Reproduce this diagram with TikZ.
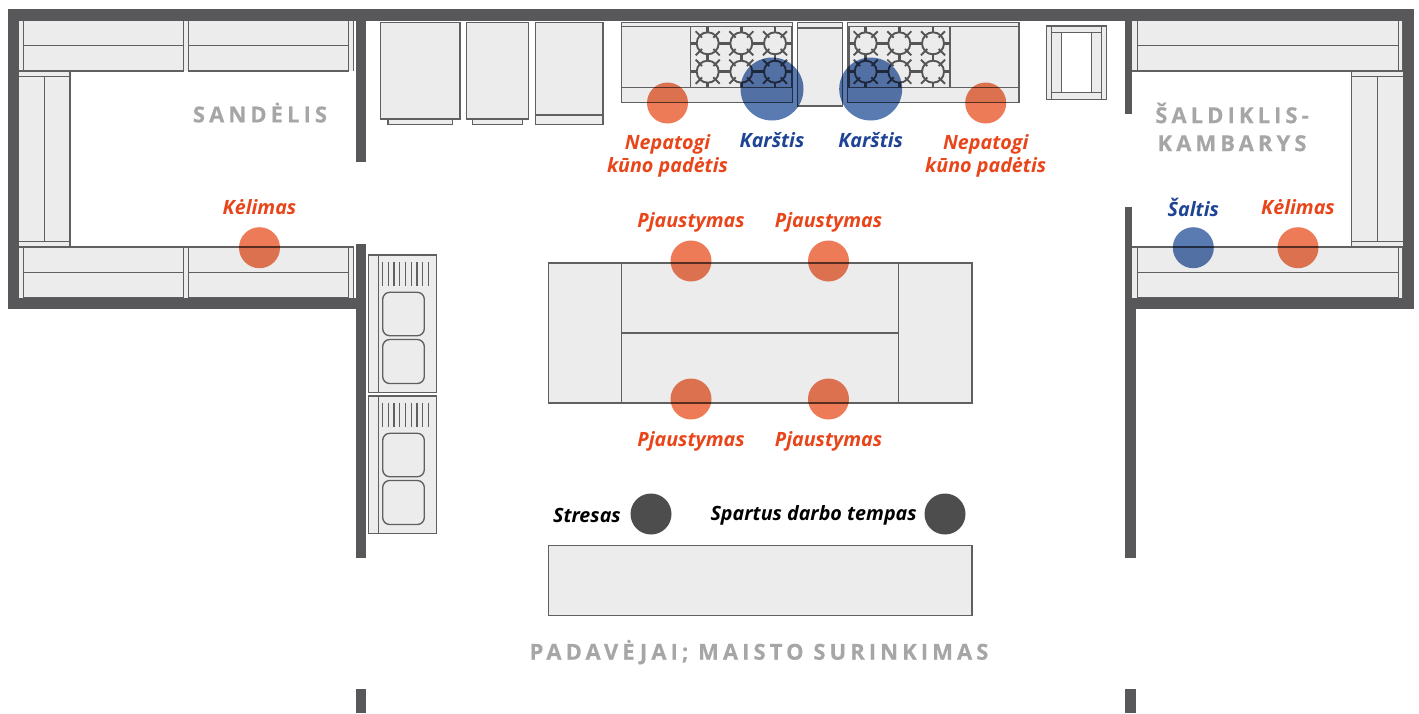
\documentclass[tikz,border=0pt]{standalone}
\usepackage{fontspec}
\setmainfont{Open Sans}
\newfontfamily\headfont[LetterSpace=18.5,BoldFeatures={FakeBold=0.4}]{Open Sans}
\tikzset{
  wall/.style={fill=wallc,draw=none},
  unit/.style={fill=unitc,draw=linec,line width=1.35pt},
  ln/.style={draw=linec,line width=1.35pt},
  well/.style={fill=unitc,draw=linec,line width=1.35pt,rounded corners=7pt},
  spot/.style={circle,draw=none,inner sep=0pt,minimum size=41pt},
  bigspot/.style={circle,draw=none,inner sep=0pt,minimum size=63pt},
  orangespot/.style={spot,fill=orangec,blend mode=multiply},
  bluespot/.style={spot,fill=bluec,blend mode=multiply},
  heatspot/.style={bigspot,fill=bluec,blend mode=multiply},
  darkspot/.style={spot,fill=darkc},
  lab/.style={font=\fontsize{19.7}{23}\selectfont\bfseries\itshape,align=center,inner sep=0pt},
  orangelab/.style={lab,text=orangetxt},
  bluelab/.style={lab,text=bluetxt},
  blacklab/.style={lab,text=black},
  room/.style={font=\fontsize{22}{28}\selectfont\headfont\bfseries,text=roomc,align=center,inner sep=0pt},
  grate/.style={draw=grc,line width=1.9pt},
  gratebar/.style={draw=grc,line width=2.5pt},
}
\definecolor{wallc}{HTML}{58585A}
\definecolor{unitc}{HTML}{ECECEC}
\definecolor{linec}{HTML}{606060}
\definecolor{grc}{HTML}{555555}
\definecolor{orangec}{HTML}{EE7B57}
\definecolor{bluec}{HTML}{5A7AB2}
\definecolor{darkc}{HTML}{4D4D4D}
\definecolor{orangetxt}{HTML}{E8461A}
\definecolor{bluetxt}{HTML}{1F4496}
\definecolor{roomc}{HTML}{A6A6A6}
\newcommand{\burner}[2]{%
  \draw[grate] (#1,#2) circle (11);
  \foreach \a in {45,135,225,315}{\draw[grate] (#1,#2)++(\a:8) -- ++(\a:9);}
}
\newcommand{\burnerbars}[1]{%
  \draw[gratebar] (#1,27) -- (#1,32.3) (#1,54.3) -- (#1,60.7) (#1,82.7) -- (#1,87);
}
\newcommand{\shelfpair}[2]{% x-left, y-top
  \draw[unit] (#1,#2) rectangle ++(160,50.5);
  \draw[ln] (#1,#2+25.3) -- ++(160,0);
}
\newcommand{\sinkunit}[1]{%
  \draw[unit] (368.7,#1) rectangle (436.7,#1+137.7);
  \draw[ln] (378.3,#1) -- ++(0,137.7);
  \foreach \i in {0,...,8}{\draw[ln] (382.7+5.7*\i,#1+6.7) -- ++(0,24);}
  \draw[well] (382.7,#1+37.3) rectangle (424.3,#1+80.7);
  \draw[well] (382.7,#1+84.5) rectangle (424.3,#1+128.5);
}
\begin{document}
\begin{tikzpicture}[x=1pt,y=-1pt]
\useasboundingbox (0,0) rectangle (1419,713);
\fill[white] (0,0) rectangle (1419,713);
% left store shelving
\fill[unitc] (19,20.5) rectangle (354,71);
\fill[unitc] (19,247) rectangle (354,298);
\fill[unitc] (19,71) rectangle (70,247);
\shelfpair{23.3}{20.5}
\shelfpair{188.7}{20.5}
\shelfpair{23.3}{246.9}
\shelfpair{188.7}{246.9}
\draw[ln] (19,71) -- (70,71) (19,246.9) -- (354,246.9);
\draw[ln] (353.3,20.5) -- (353.3,71) (353.3,246.9) -- (353.3,298);
\draw[ln] (70,71) -- (70,246.9);
\draw[ln] (19,76.3) -- (70,76.3) (19,241.7) -- (70,241.7) (44.3,76.3) -- (44.3,241.7);
% right freezer shelving
\fill[unitc] (1131.7,20.5) rectangle (1403.3,71);
\fill[unitc] (1131.7,247) rectangle (1403.3,298);
\fill[unitc] (1351.7,71) rectangle (1403.3,247);
\draw[unit] (1137.3,20.5) rectangle (1398.3,71);
\draw[unit] (1137.3,246.9) rectangle (1398.3,297.7);
\draw[ln] (1137.3,45.5) -- (1398.3,45.5) (1137.3,272.3) -- (1398.3,272.3);
\draw[ln] (1131.7,71) -- (1403.3,71) (1131.7,246.9) -- (1403.3,246.9);
\draw[ln] (1402.7,20.5) -- (1402.7,71) (1402.7,246.9) -- (1402.7,298);
\draw[ln] (1351.7,71) -- (1351.7,246.9);
\draw[ln] (1351.7,76.3) -- (1403.3,76.3) (1351.7,241.7) -- (1403.3,241.7) (1377.7,76.3) -- (1377.7,241.7);
% walls
\fill[wall] (8,9.4) rectangle (1414.3,20.6);
\fill[wall] (8,9.4) rectangle (19,309);
\fill[wall] (1403.3,9.4) rectangle (1414.3,309);
\fill[wall] (8,297.7) rectangle (366.3,309);
\fill[wall] (1125.3,297.7) rectangle (1414.3,309);
\fill[wall] (355.7,20) rectangle (366.3,162);
\fill[wall] (355.7,244.3) rectangle (366.3,557.7);
\fill[wall] (355.7,689) rectangle (366.3,713);
\fill[wall] (1125.3,20) rectangle (1131.7,114.3);
\fill[wall] (1125.3,207) rectangle (1131.7,298);
\fill[wall] (1125.3,298) rectangle (1136,557.7);
\fill[wall] (1125.3,689) rectangle (1136,713);
% fridges
\draw[unit] (388,119) rectangle (452.3,124.7);
\draw[unit] (380.3,22.7) rectangle (460,119);
\draw[unit] (472.7,119) rectangle (522.7,124.7);
\draw[unit] (466.7,22.7) rectangle (528.3,119);
\draw[unit] (535.3,22.7) rectangle (603,124.7);
\draw[ln] (535.3,115) -- (603,115);
% ranges
\draw[unit] (621.3,22.7) rectangle (792.7,102.7);
\draw[ln] (621.3,26.7) -- (792.7,26.7) (621.3,87.3) -- (792.7,87.3) (690.7,26.7) -- (690.7,87.3) (791.5,26.7) -- (791.5,87.3);
\draw[unit] (797.7,22.7) rectangle (842.7,106);
\draw[ln] (797.7,28) -- (842.7,28);
\draw[unit] (847.7,22.7) rectangle (1019,102.7);
\draw[ln] (847.7,26.7) -- (1019,26.7) (847.7,87.3) -- (1019,87.3) (849,26.7) -- (849,87.3) (950,26.7) -- (950,87.3);
\foreach \x in {707.7,741.3,775,865.7,899.3,933}{\burner{\x}{43.3}\burner{\x}{71.7}\burnerbars{\x}}
\draw[gratebar] (690.7,43.3) -- (696.7,43.3) (718.7,43.3) -- (730.3,43.3) (752.3,43.3) -- (764,43.3) (786,43.3) -- (791.5,43.3)
 (690.7,71.7) -- (696.7,71.7) (718.7,71.7) -- (730.3,71.7) (752.3,71.7) -- (764,71.7) (786,71.7) -- (791.5,71.7);
\draw[gratebar] (849,43.3) -- (854.7,43.3) (876.7,43.3) -- (888.3,43.3) (910.3,43.3) -- (922,43.3) (944,43.3) -- (950,43.3)
 (849,71.7) -- (854.7,71.7) (876.7,71.7) -- (888.3,71.7) (910.3,71.7) -- (922,71.7) (944,71.7) -- (950,71.7);
% small unit
\draw[unit] (1046.7,26) rectangle (1106.7,99.3);
\fill[white] (1061.7,32.7) rectangle (1091.7,92.3);
\draw[ln] (1051.7,26) -- (1051.7,99.3) (1101.7,26) -- (1101.7,99.3) (1061.7,32.7) -- (1061.7,92.3) (1091.7,32.7) -- (1091.7,92.3) (1051.7,32.7) -- (1101.7,32.7) (1051.7,92.3) -- (1101.7,92.3);
% sinks
\sinkunit{255}
\sinkunit{396}
% prep table
\draw[unit] (548.3,263) rectangle (972,403);
\draw[ln] (621.5,263) -- (621.5,403) (898.5,263) -- (898.5,403) (621.5,333) -- (898.5,333);
% pass counter
\draw[unit] (548.5,545.5) rectangle (972,615.5);
% circles
\node[orangespot] (c1) at (259.5,247.7) {};
\node[orangespot] (c2) at (667.5,103) {};
\node[orangespot] (c3) at (985.7,103) {};
\node[orangespot] (c4) at (691,261) {};
\node[orangespot] (c5) at (828.5,261) {};
\node[orangespot] (c6) at (691,399) {};
\node[orangespot] (c7) at (828.5,399) {};
\node[orangespot] (c8) at (1298,247.7) {};
\node[bluespot] (c9) at (1193.3,247.7) {};
\node[heatspot] (c10) at (772,89) {};
\node[heatspot] (c11) at (870.7,89) {};
\node[darkspot] (c12) at (651,514) {};
\node[darkspot] (c13) at (945,514) {};
% labels
\node[orangelab] (t1) at (259.5,207.5) {Kėlimas};
\node[orangelab] (t2) at (667.5,155.5) {Nepatogi\\kūno padėtis};
\node[orangelab] (t3) at (985.7,155.5) {Nepatogi\\kūno padėtis};
\node[bluelab] (t4) at (772,140) {Karštis};
\node[bluelab] (t5) at (870.7,140) {Karštis};
\node[orangelab] (t6) at (691,222) {Pjaustymas};
\node[orangelab] (t7) at (828.5,222) {Pjaustymas};
\node[orangelab] (t8) at (691,441) {Pjaustymas};
\node[orangelab] (t9) at (828.5,441) {Pjaustymas};
\node[bluelab] (t10) at (1193.3,207) {Šaltis};
\node[orangelab] (t11) at (1298,207.5) {Kėlimas};
\node[blacklab,anchor=east] (t12) at (621,515) {Stresas};
\node[blacklab,anchor=east] (t13) at (917,515) {Spartus darbo tempas};
\node[room] (r1) at (260,112.5) {SANDĖLIS};
\node[room] (r2) at (1232,127) {ŠALDIKLIS-\\KAMBARYS};
\node[room] (r3) at (759,652) {PADAVĖJAI; MAISTO SURINKIMAS};
\end{tikzpicture}
\end{document}
